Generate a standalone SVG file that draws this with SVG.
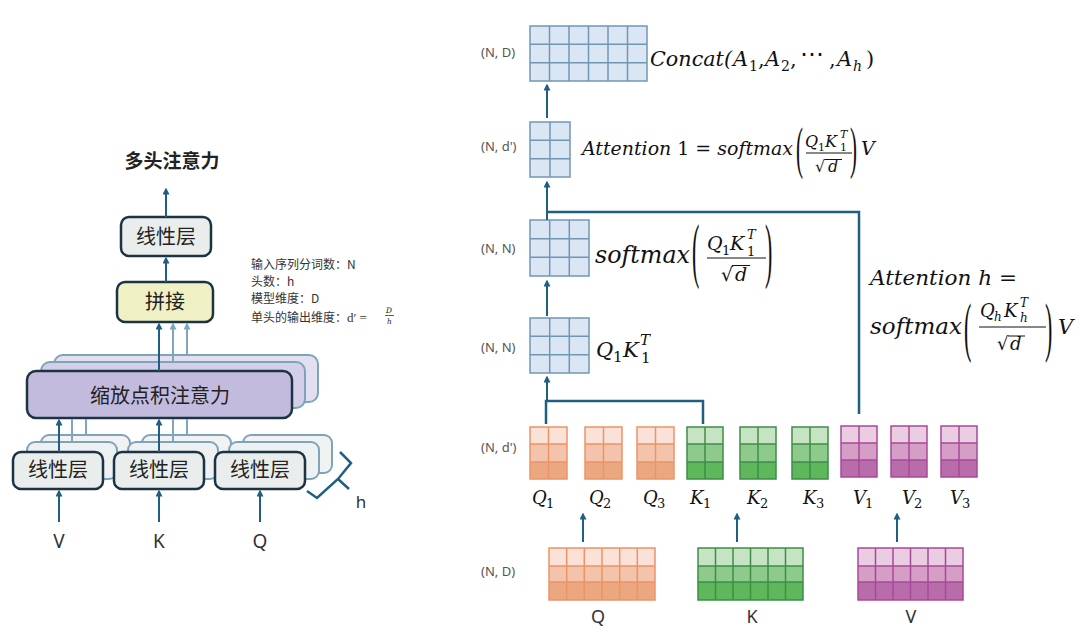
<svg xmlns="http://www.w3.org/2000/svg" width="1080" height="635" viewBox="0 0 1080 635">
<style>
.cn{font-family:"Noto Sans CJK SC","Noto Sans",sans-serif;fill:#222}
.lg{font-family:"Noto Sans CJK SC","Noto Sans",sans-serif;font-size:12px;fill:#333}
.lbl{font-family:"Noto Sans","Liberation Sans",sans-serif;font-size:13px;fill:#555}
.io{font-family:"Noto Sans","Liberation Sans",sans-serif;fill:#333;text-anchor:middle}
.m{font-family:"DejaVu Serif",serif;font-style:italic;fill:#111}
.u{font-style:normal}
.pr{font-family:"Liberation Serif",serif;fill:#111}
.box{stroke:#1c3344;stroke-width:2.5}
.lay{stroke:#7fa3ba;stroke-width:2}
.arr{stroke:#1f5f80;stroke-width:2;fill:none}
.arrl{stroke:#7fa6bd;stroke-width:2;fill:none}
.conn{stroke:#1f5f80;stroke-width:2.5;fill:none}
.bar{stroke:#111;stroke-width:1}
.bg{fill:#dbe6f4;stroke:#7096b5;stroke-width:1.5}
.bl{stroke:#7096b5;stroke-width:1.5}
.o1{fill:#fbe2d8}.o2{fill:#f3c4ab}.o3{fill:#eba880}.os{fill:none;stroke:#ec9466;stroke-width:1.5}
.g1{fill:#c6e3c4}.g2{fill:#8dca8b}.g3{fill:#5fb75c}.gs{fill:none;stroke:#3e8f45;stroke-width:1.5}
.p1{fill:#ebcde2}.p2{fill:#d49ec6}.p3{fill:#b96caa}.ps{fill:none;stroke:#a8489a;stroke-width:1.5}
</style>
<defs>
<marker id="ah" viewBox="0 0 10 10" refX="8" refY="5" markerWidth="7" markerHeight="7" markerUnits="userSpaceOnUse" orient="auto"><path d="M0,0 L10,5 L0,10 z" fill="#1f5f80"/></marker>
<marker id="ahl" viewBox="0 0 10 10" refX="8" refY="5" markerWidth="7" markerHeight="7" markerUnits="userSpaceOnUse" orient="auto"><path d="M0,0 L10,5 L0,10 z" fill="#7fa6bd"/></marker>
<g id="qs"><rect class="o1" width="37" height="17"/><rect class="o2" y="17" width="37" height="18"/><rect class="o3" y="35" width="37" height="17"/><path class="os" d="M0,0H37V52H0Z M18.5,0V52 M0,17H37 M0,35H37"/></g>
<g id="ks"><rect class="g1" width="36" height="17"/><rect class="g2" y="17" width="36" height="18"/><rect class="g3" y="35" width="36" height="17"/><path class="gs" d="M0,0H36V52H0Z M18,0V52 M0,17H36 M0,35H36"/></g>
<g id="vs"><rect class="p1" width="36" height="17"/><rect class="p2" y="17" width="36" height="17"/><rect class="p3" y="34" width="36" height="17"/><path class="ps" d="M0,0H36V51H0Z M18,0V51 M0,17H36 M0,34H36"/></g>
</defs>

<!-- ===== LEFT: multi-head attention ===== -->
<text id="title" class="cn" x="172" y="168" font-size="19" font-weight="bold" text-anchor="middle">多头注意力</text>

<g id="linear-v">
<rect class="lay" x="41" y="435" width="89" height="38" rx="8" fill="#f1f3f3"/>
<rect class="lay" x="27" y="442" width="90" height="37" rx="8" fill="#eef1f1"/>
<rect class="box" x="13" y="452" width="90" height="37" rx="8" fill="#e9edeb"/>
<text class="cn" x="58" y="477" font-size="20" text-anchor="middle">线性层</text>
</g>
<g id="linear-k">
<rect class="lay" x="142" y="435" width="89" height="38" rx="8" fill="#f1f3f3"/>
<rect class="lay" x="128" y="442" width="90" height="37" rx="8" fill="#eef1f1"/>
<rect class="box" x="114" y="452" width="90" height="37" rx="8" fill="#e9edeb"/>
<text class="cn" x="159" y="477" font-size="20" text-anchor="middle">线性层</text>
</g>
<g id="linear-q">
<rect class="lay" x="243" y="435" width="89" height="38" rx="8" fill="#f1f3f3"/>
<rect class="lay" x="229" y="442" width="90" height="37" rx="8" fill="#eef1f1"/>
<rect class="box" x="215" y="452" width="90" height="37" rx="8" fill="#e9edeb"/>
<text class="cn" x="260" y="477" font-size="20" text-anchor="middle">线性层</text>
</g>

<g id="sdpa">
<rect class="lay" x="54" y="355" width="264" height="47" rx="9" fill="#e1dff0"/>
<rect class="lay" x="41" y="362" width="264" height="46" rx="9" fill="#d3cfe8"/>
<rect class="box" x="27" y="371" width="265" height="47" rx="9" fill="#c3bbde"/>
<text class="cn" x="160" y="403" font-size="20" text-anchor="middle">缩放点积注意力</text>
</g>

<g id="concat-box">
<rect class="box" x="117" y="282" width="96" height="40" rx="8" fill="#eff0c3"/>
<text class="cn" x="165" y="309" font-size="20" text-anchor="middle">拼接</text>
</g>

<g id="linear-out">
<rect class="box" x="121" y="217" width="90" height="39" rx="8" fill="#e9edeb"/>
<text class="cn" x="166" y="244" font-size="20" text-anchor="middle">线性层</text>
</g>

<g id="legend">
<text class="lg" x="251" y="269">输入序列分词数：N</text>
<text class="lg" x="251" y="286">头数：h</text>
<text class="lg" x="251" y="303">模型维度：D</text>
<text class="lg" x="251" y="322">单头的输出维度：<tspan font-family="Liberation Serif,serif" font-size="13">d′ =</tspan></text>
<text class="m" x="386" y="313" font-size="7.5">D</text>
<line x1="385" y1="315.5" x2="394" y2="315.5" stroke="#333" stroke-width="0.8"/>
<text class="m" x="387" y="324" font-size="7.5">h</text>
</g>

<g id="brace">
<path d="M340,452 L351,463 L338,479 L317,498 L307,491 M338,479 L349,489" fill="none" stroke="#1f5f80" stroke-width="2.5"/>
<text class="io" x="361" y="508" font-size="17">h</text>
</g>

<g id="inputs">
<text class="io" x="59" y="548" font-size="19">V</text>
<text class="io" x="159" y="548" font-size="19">K</text>
<text class="io" x="260" y="548" font-size="19">Q</text>
</g>

<g id="left-connectors">
<line class="arr" x1="59" y1="522" x2="59" y2="491" marker-end="url(#ah)"/>
<line class="arr" x1="159" y1="522" x2="159" y2="491" marker-end="url(#ah)"/>
<line class="arr" x1="260" y1="522" x2="260" y2="491" marker-end="url(#ah)"/>
<line class="arr" x1="59" y1="452" x2="59" y2="420" marker-end="url(#ah)"/>
<line class="arrl" x1="72" y1="442" x2="72" y2="419"/>
<line class="arrl" x1="86" y1="435" x2="86" y2="419"/>
<line class="arr" x1="159" y1="452" x2="159" y2="420" marker-end="url(#ah)"/>
<line class="arrl" x1="173" y1="442" x2="173" y2="419"/>
<line class="arrl" x1="187" y1="435" x2="187" y2="419"/>
<line class="arr" x1="159" y1="371" x2="159" y2="324" marker-end="url(#ah)"/>
<line class="arrl" x1="173" y1="362" x2="173" y2="324" marker-end="url(#ahl)"/>
<line class="arrl" x1="187" y1="355" x2="187" y2="324" marker-end="url(#ahl)"/>
<line class="arr" x1="166" y1="282" x2="166" y2="258" marker-end="url(#ah)"/>
<line class="arr" x1="166" y1="217" x2="166" y2="189" marker-end="url(#ah)"/>
</g>

<!-- ===== RIGHT: computation ===== -->
<g id="right-labels">
<text class="lbl" x="481" y="57">(N, D)</text>
<text class="lbl" x="481" y="151">(N, d')</text>
<text class="lbl" x="481" y="253">(N, N)</text>
<text class="lbl" x="481" y="352">(N, N)</text>
<text class="lbl" x="481" y="452">(N, d')</text>
<text class="lbl" x="481" y="576">(N, D)</text>
</g>

<g id="m-concat">
<rect class="bg" x="530" y="26" width="117" height="55"/>
<path class="bl" d="M549.5,26V81 M569,26V81 M588.5,26V81 M608,26V81 M627.5,26V81 M530,44.3H647 M530,62.7H647"/>
<text class="m" x="650" y="66" font-size="21" textLength="82" lengthAdjust="spacingAndGlyphs">Concat(</text>
<text class="m" x="733" y="66" font-size="21">A</text><text class="m u" x="749" y="71" font-size="14">1</text>
<text class="m u" x="758" y="66" font-size="21">,</text>
<text class="m" x="765" y="66" font-size="21">A</text><text class="m u" x="781" y="71" font-size="14">2</text>
<text class="m u" x="790" y="66" font-size="21">,</text>
<text class="m u" x="800" y="62" font-size="24">⋯</text>
<text class="m u" x="829" y="66" font-size="21">,</text>
<text class="m" x="837" y="66" font-size="21">A</text><text class="m" x="853" y="71" font-size="14">h</text>
<text class="m u" x="866" y="66" font-size="21">)</text>
</g>

<g id="m-att1">
<rect class="bg" x="530" y="122" width="40" height="55"/>
<path class="bl" d="M550,122V177 M530,140.3H570 M530,158.7H570"/>
<text class="m" x="582" y="155" font-size="19" textLength="211" lengthAdjust="spacingAndGlyphs">Attention <tspan class="u">1 =</tspan> softmax</text>
<text class="pr" font-size="21" transform="translate(796,167) scale(1,2.68)">(</text>
<text class="m" x="805" y="147" font-size="16">Q</text><text class="m u" x="818" y="151" font-size="11">1</text>
<text class="m" x="825" y="147" font-size="16">K</text><text class="m" x="840" y="138" font-size="11">T</text><text class="m u" x="840" y="151" font-size="11">1</text>
<line class="bar" x1="806" y1="153" x2="852" y2="153"/>
<text class="m u" x="815" y="172" font-size="16">√</text>
<line class="bar" x1="825" y1="159.5" x2="842" y2="159.5"/>
<text class="m" x="828" y="172" font-size="16">d</text>
<text class="pr" font-size="21" transform="translate(850,167) scale(1,2.68)">)</text>
<text class="m" x="861" y="155" font-size="19">V</text>
</g>

<g id="m-softmax">
<rect class="bg" x="530" y="220" width="59" height="56"/>
<path class="bl" d="M549.7,220V276 M569.3,220V276 M530,238.7H589 M530,257.3H589"/>
<text class="m" x="595" y="263" font-size="24" textLength="95" lengthAdjust="spacingAndGlyphs">softmax</text>
<text class="pr" font-size="22" transform="translate(692,274) scale(1,3.24)">(</text>
<text class="m" x="707" y="250" font-size="19">Q</text><text class="m u" x="722" y="255" font-size="13">1</text>
<text class="m" x="730" y="250" font-size="19">K</text><text class="m" x="747" y="239" font-size="13">T</text><text class="m u" x="747" y="256" font-size="13">1</text>
<line class="bar" x1="707" y1="258" x2="766" y2="258"/>
<text class="m u" x="721" y="281" font-size="19">√</text>
<line class="bar" x1="732" y1="265.5" x2="750" y2="265.5"/>
<text class="m" x="735" y="281" font-size="19">d</text>
<text class="pr" font-size="22" transform="translate(765,274) scale(1,3.24)">)</text>
</g>

<g id="m-qk">
<rect class="bg" x="530" y="318" width="59" height="55"/>
<path class="bl" d="M549.7,318V373 M569.3,318V373 M530,336.3H589 M530,354.7H589"/>
<text class="m" x="596" y="357" font-size="21">Q</text><text class="m u" x="613" y="362" font-size="15">1</text>
<text class="m" x="623" y="357" font-size="21">K</text><text class="m" x="640" y="345" font-size="15">T</text><text class="m u" x="641" y="363" font-size="15">1</text>
</g>

<g id="att-h">
<text class="m" x="870" y="285" font-size="21" textLength="147" lengthAdjust="spacingAndGlyphs">Attention h <tspan class="u">=</tspan></text>
<text class="m" x="870" y="334" font-size="22" textLength="92" lengthAdjust="spacingAndGlyphs">softmax</text>
<text class="pr" font-size="22" transform="translate(964,348.5) scale(1,2.98)">(</text>
<text class="m" x="980" y="317" font-size="18">Q</text><text class="m" x="994" y="321" font-size="12">h</text>
<text class="m" x="1004" y="317" font-size="18">K</text><text class="m" x="1020" y="307" font-size="12">T</text><text class="m" x="1020" y="322" font-size="12">h</text>
<line class="bar" x1="979" y1="327" x2="1046" y2="327"/>
<text class="m u" x="997" y="350" font-size="18">√</text>
<line class="bar" x1="1008" y1="336" x2="1025" y2="336"/>
<text class="m" x="1010" y="350" font-size="18">d</text>
<text class="pr" font-size="22" transform="translate(1045,348.5) scale(1,2.98)">)</text>
<text class="m" x="1058" y="334" font-size="21">V</text>
</g>

<g id="heads">
<use href="#qs" x="530" y="427"/>
<use href="#qs" x="585" y="427"/>
<use href="#qs" x="637" y="427"/>
<use href="#ks" x="687" y="427"/>
<use href="#ks" x="740" y="427"/>
<use href="#ks" x="792" y="427"/>
<use href="#vs" x="841" y="426"/>
<use href="#vs" x="891" y="426"/>
<use href="#vs" x="941" y="426"/>
</g>

<g id="head-labels">
<text class="m" x="532" y="504" font-size="18">Q</text><text class="m u" x="546" y="508" font-size="13">1</text>
<text class="m" x="589" y="504" font-size="18">Q</text><text class="m u" x="603" y="508" font-size="13">2</text>
<text class="m" x="643" y="504" font-size="18">Q</text><text class="m u" x="657" y="508" font-size="13">3</text>
<text class="m" x="690" y="504" font-size="18">K</text><text class="m u" x="703" y="508" font-size="13">1</text>
<text class="m" x="747" y="504" font-size="18">K</text><text class="m u" x="760" y="508" font-size="13">2</text>
<text class="m" x="803" y="504" font-size="18">K</text><text class="m u" x="816" y="508" font-size="13">3</text>
<text class="m" x="853" y="504" font-size="18">V</text><text class="m u" x="865" y="508" font-size="13">1</text>
<text class="m" x="902" y="504" font-size="18">V</text><text class="m u" x="914" y="508" font-size="13">2</text>
<text class="m" x="950" y="504" font-size="18">V</text><text class="m u" x="962" y="508" font-size="13">3</text>
</g>

<g id="big-q">
<rect class="o1" x="549" y="548" width="106" height="18"/><rect class="o2" x="549" y="566" width="106" height="16"/><rect class="o3" x="549" y="582" width="106" height="18"/>
<path class="os" d="M549,548H655V600H549Z M566.7,548V600 M584.3,548V600 M602,548V600 M619.7,548V600 M637.3,548V600 M549,566H655 M549,582H655"/>
<text class="io" x="598" y="623" font-size="18">Q</text>
</g>
<g id="big-k">
<rect class="g1" x="698" y="548" width="105" height="18"/><rect class="g2" x="698" y="566" width="105" height="16"/><rect class="g3" x="698" y="582" width="105" height="18"/>
<path class="gs" d="M698,548H803V600H698Z M715.5,548V600 M733,548V600 M750.5,548V600 M768,548V600 M785.5,548V600 M698,566H803 M698,582H803"/>
<text class="io" x="752" y="623" font-size="18">K</text>
</g>
<g id="big-v">
<rect class="p1" x="858" y="548" width="105" height="18"/><rect class="p2" x="858" y="566" width="105" height="16"/><rect class="p3" x="858" y="582" width="105" height="18"/>
<path class="ps" d="M858,548H963V600H858Z M875.5,548V600 M893,548V600 M910.5,548V600 M928,548V600 M945.5,548V600 M858,566H963 M858,582H963"/>
<text class="io" x="911" y="623" font-size="18">V</text>
</g>

<g id="right-connectors">
<line class="arr" x1="583" y1="542" x2="583" y2="514" marker-end="url(#ah)"/>
<line class="arr" x1="737" y1="542" x2="737" y2="514" marker-end="url(#ah)"/>
<line class="arr" x1="897" y1="542" x2="897" y2="514" marker-end="url(#ah)"/>
<path class="conn" d="M546,424 V401 H703 V424"/>
<line class="arr" x1="547" y1="401" x2="547" y2="377" marker-end="url(#ah)"/>
<line class="arr" x1="547" y1="316" x2="547" y2="281" marker-end="url(#ah)"/>
<path class="conn" d="M859,414 V212 H547"/>
<line class="arr" x1="547" y1="220" x2="547" y2="182" marker-end="url(#ah)"/>
<line class="arr" x1="547" y1="118" x2="547" y2="85" marker-end="url(#ah)"/>
</g>
</svg>
